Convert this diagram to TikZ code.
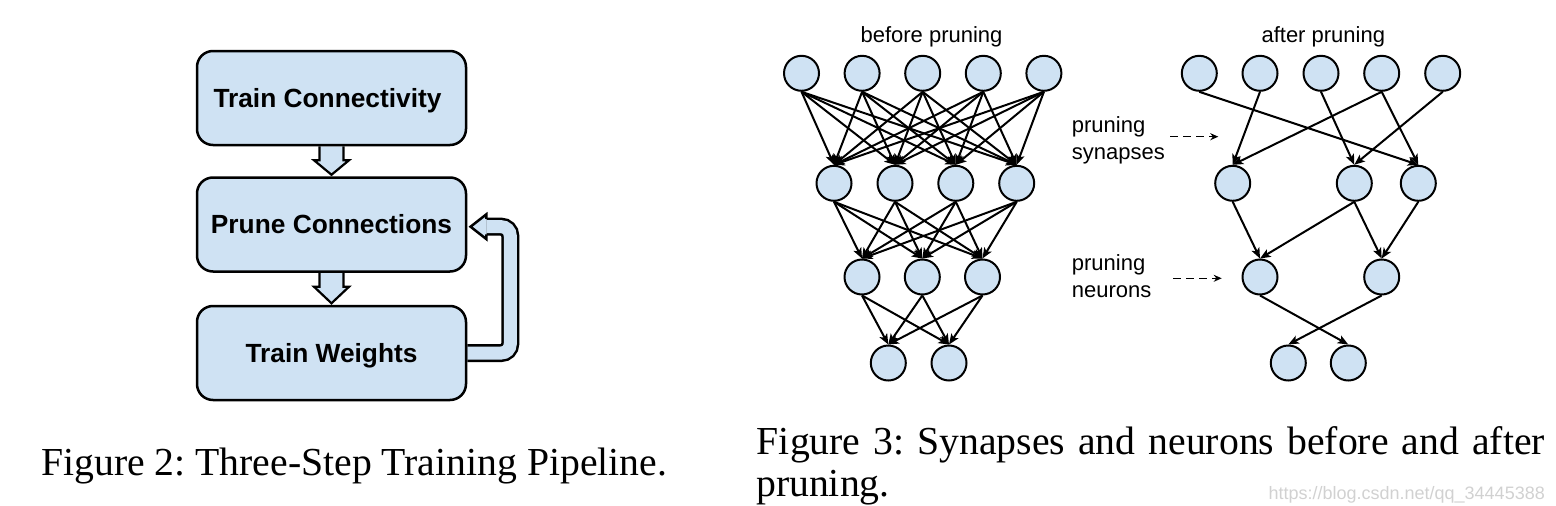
\documentclass[tikz,border=0pt]{standalone}
\usepackage{fontspec}
\setmainfont{Liberation Serif}
\newfontfamily\arial{Liberation Sans}
\usetikzlibrary{arrows.meta,calc,backgrounds}
\definecolor{lb}{HTML}{CFE2F3}
\begin{document}
\frenchspacing
\begin{tikzpicture}[x=1pt,y=-1pt,
  box/.style={draw, line width=2.5pt, fill=lb, rounded corners=16pt, minimum width=269pt, minimum height=94pt, inner sep=0pt, text height=18.7pt, text depth=0pt, font=\arial\bfseries\fontsize{26.3}{31}\selectfont},
  neuron/.style={circle, draw, line width=2pt, fill=lb, minimum size=35pt, inner sep=0pt},
  syn/.style={line width=2pt, -{Stealth[length=10.5pt,width=8.5pt,inset=2.5pt]}},
  blockarrow/.style={draw, fill=lb, line width=2.2pt, line join=miter},
  lbl/.style={font=\arial\fontsize{22}{26}\selectfont, inner sep=0pt, anchor=base west},
  dasharrow/.style={line width=1.5pt, dash pattern=on 8pt off 5pt, -{Stealth[length=8pt,width=7pt]}},
  capt/.style={font=\fontsize{39.7}{47}\selectfont, inner sep=0pt, anchor=base west}]
\useasboundingbox (0,0) rectangle (1556,506);

% ---------- Figure 2: pipeline ----------
\node[box] (tc) at (331.5,98) {Train Connectivity\kern8pt};
\node[box] (pc) at (331.5,224.5) {Prune Connections};
\node[box] (tw) at (331.5,353) {Train Weights};

\begin{scope}[on background layer]
  \path[blockarrow] ($(tc.south)+(-12,0)$) -- ($(tc.south)+(-12,14)$) -- ($(tc.south)+(-17.5,14)$)
     -- ($(pc.north)+(0,-1.5)$) -- ($(tc.south)+(17.5,14)$) -- ($(tc.south)+(12,14)$) -- ($(tc.south)+(12,0)$);
  \path[blockarrow] ($(pc.south)+(-12,0)$) -- ($(pc.south)+(-12,14)$) -- ($(pc.south)+(-17.5,14)$)
     -- ($(tw.north)+(0,-1.5)$) -- ($(pc.south)+(17.5,14)$) -- ($(pc.south)+(12,14)$) -- ($(pc.south)+(12,0)$);
  \coordinate (fbtip) at ($(pc.east)+(3.3,2.2)$);
  \coordinate (fbback) at ($(fbtip)+(15.7,0)$);
  \draw[line width=2.5pt, double=lb, double distance=13pt, rounded corners=9pt]
     (tw.east) -- ++(43,0) |- (fbback);
\end{scope}
\fill[lb] ($(fbback)+(0,-12.3)$) -- (fbtip) -- ($(fbback)+(0,12.3)$) -- cycle;
\draw[line width=2.5pt, line join=miter] ($(fbback)+(0,-7.75)$) -- ($(fbback)+(0,-12.3)$) -- (fbtip)
     -- ($(fbback)+(0,12.3)$) -- ($(fbback)+(0,7.75)$);

\node[capt] (cap2) at (41,475) {Figure 2: Three-Step Training Pipeline.};

% ---------- Figure 3: before pruning ----------
\node[lbl, anchor=base] (bp) at (931.5,42.5) {before pruning};
\foreach \x [count=\i] in {801.5,862.1,922.7,983.3,1043.9} \node[neuron] (n1\i) at (\x,73.3) {};
\foreach \x [count=\i] in {834,895,955.8,1016.7} \node[neuron] (n2\i) at (\x,183.3) {};
\foreach \x [count=\i] in {862,922.3,982.5} \node[neuron] (n3\i) at (\x,277) {};
\foreach \x [count=\i] in {888.3,949} \node[neuron] (n4\i) at (\x,363) {};
\foreach \i in {1,...,5} \foreach \j in {1,...,4} \draw[syn] (n1\i.south) -- (n2\j.north);
\foreach \i in {1,...,4} \foreach \j in {1,...,3} \draw[syn] (n2\i.south) -- (n3\j.north);
\foreach \i in {1,...,3} \foreach \j in {1,...,2} \draw[syn] (n3\i.south) -- (n4\j.north);

% ---------- after pruning ----------
\node[lbl, anchor=base] (ap) at (1323.3,42.5) {after pruning};
\foreach \x [count=\i] in {1199.3,1260,1321,1381.7,1442.7} \node[neuron] (m1\i) at (\x,73.3) {};
\foreach \x [count=\i] in {1232.7,1354.3,1418.3} \node[neuron] (m2\i) at (\x,183.3) {};
\foreach \x [count=\i] in {1260,1381.7} \node[neuron] (m3\i) at (\x,277) {};
\foreach \x [count=\i] in {1288.3,1348.3} \node[neuron] (m4\i) at (\x,363) {};
\foreach \a/\b in {11/23,12/21,13/22,14/21,14/23,15/22} \draw[syn] (m\a.south) -- (m\b.north);
\foreach \a/\b in {21/31,22/31,22/32,23/32} \draw[syn] (m\a.south) -- (m\b.north);
\foreach \a/\b in {31/42,32/41} \draw[syn] (m\a.south) -- (m\b.north);

% labels
\node[lbl] (ps1) at (1071.7,132) {pruning};
\node[lbl] (ps2) at (1071.7,159.5) {synapses};
\node[lbl] (pn1) at (1071.7,270.7) {pruning};
\node[lbl] (pn2) at (1071.7,297.5) {neurons};
\coordinate (ds1) at (1170,136.7);
\coordinate (de1) at (1218.3,136.7);
\coordinate (ds2) at (1173.3,278.3);
\coordinate (de2) at (1221.7,278.3);
\draw[dasharrow] (ds1) -- (de1);
\draw[dasharrow] (ds2) -- (de2);

\node[capt] (cap3a) at (756.7,454.3) {\makebox[788pt][s]{Figure 3: Synapses and neurons before and after}};
\node[capt] (cap3b) at (756,496) {pruning.};
\node[anchor=base east, inner sep=0pt, text=black!18, font=\arial\fontsize{18}{20}\selectfont] (wm) at (1545,499) {https://blog.csdn.net/qq\_34445388};
\end{tikzpicture}
\end{document}
